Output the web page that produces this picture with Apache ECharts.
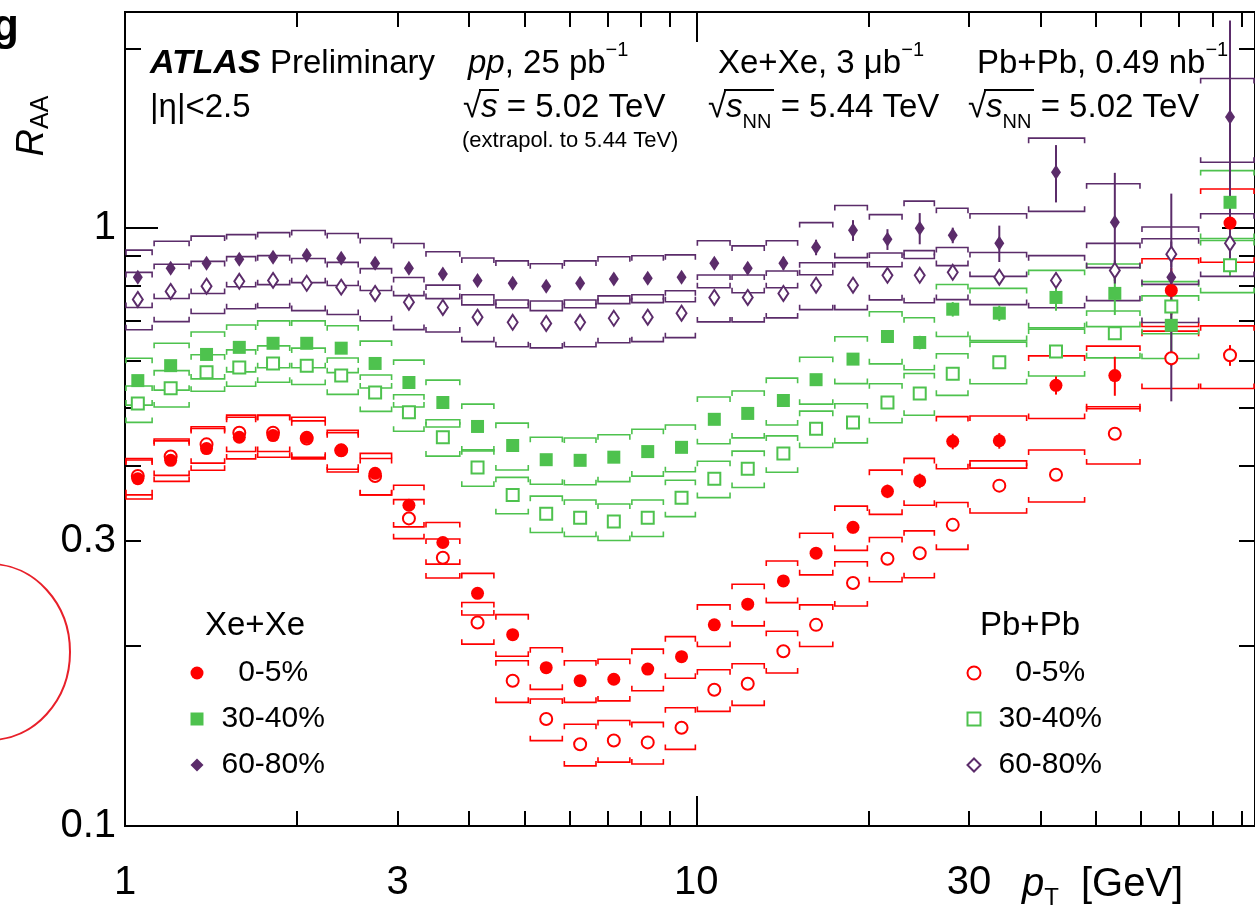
<!DOCTYPE html>
<html><head><meta charset="utf-8">
<script src="https://cdn.jsdelivr.net/npm/echarts@6/dist/echarts.min.js"></script>
<style>html,body{margin:0;padding:0;background:#fff}#c{width:1255px;height:918px}</style>
</head><body><div id="c"></div>
<script>
// ---------------- data ----------------
const binEdges = [1.0, 1.12, 1.3, 1.5, 1.7, 1.95, 2.25, 2.57, 2.94, 3.35, 3.87, 4.44, 5.1, 5.85, 6.7, 7.68, 8.79, 10.0, 11.5, 13.2, 15.1, 17.4, 20.0, 23.0, 26.2, 30.0, 38.0, 48.0, 60.0, 76.0, 95.0];
const ptCenters = [1.053, 1.202, 1.389, 1.585, 1.816, 2.08, 2.39, 2.74, 3.14, 3.60, 4.14, 4.77, 5.46, 6.26, 7.17, 8.22, 9.42, 10.75, 12.3, 14.2, 16.2, 18.8, 21.6, 24.6, 28.1, 33.9, 42.6, 54.0, 67.8, 85.9];

const xeRaa_0_5   = [0.381,0.409,0.428,0.447,0.450,0.447,0.425,0.389,0.344,0.298,0.245,0.209,0.184,0.175,0.176,0.183,0.192,0.217,0.235,0.257,0.286,0.316,0.363,0.378,0.440,0.441,0.546,0.567,0.787,1.02];
const pbRaa_0_5   = [0.385,0.415,0.435,0.455,0.455,0.445,0.425,0.385,0.327,0.281,0.219,0.175,0.151,0.137,0.139,0.138,0.146,0.169,0.173,0.196,0.217,0.255,0.280,0.286,0.319,0.371,0.387,0.453,0.606,0.613];
const xeRaa_30_40 = [0.556,0.589,0.615,0.632,0.642,0.642,0.630,0.594,0.552,0.511,0.466,0.433,0.410,0.409,0.414,0.423,0.430,0.479,0.490,0.515,0.558,0.604,0.659,0.644,0.732,0.721,0.766,0.778,0.688,1.105];
const pbRaa_30_40 = [0.509,0.540,0.574,0.585,0.594,0.589,0.567,0.531,0.492,0.447,0.398,0.358,0.333,0.328,0.323,0.328,0.354,0.381,0.396,0.420,0.462,0.473,0.511,0.529,0.571,0.597,0.622,0.667,0.740,0.867];
const xeRaa_60_80 = [0.828,0.857,0.874,0.887,0.894,0.901,0.891,0.874,0.857,0.838,0.818,0.809,0.800,0.809,0.822,0.825,0.828,0.874,0.857,0.874,0.929,0.992,0.958,1.000,0.973,0.944,1.241,1.023,0.828,1.535];
const pbRaa_60_80 = [0.760,0.784,0.800,0.815,0.818,0.809,0.797,0.778,0.752,0.737,0.710,0.696,0.693,0.696,0.707,0.710,0.721,0.766,0.766,0.778,0.803,0.803,0.834,0.834,0.844,0.828,0.818,0.850,0.905,0.944];

// relative systematic uncertainties (half height of the boxes)
const xeSys_0_5   = [0.075,0.078,0.08,0.08,0.08,0.08,0.08,0.08,0.08,0.08,0.08,0.08,0.08,0.08,0.08,0.08,0.08,0.08,0.08,0.08,0.08,0.085,0.085,0.09,0.10,0.10,0.12,0.12,0.13,0.14];
const pbSys_0_5   = [0.07,0.07,0.07,0.07,0.07,0.07,0.07,0.07,0.075,0.075,0.08,0.08,0.08,0.08,0.08,0.08,0.08,0.08,0.08,0.08,0.08,0.085,0.085,0.09,0.09,0.10,0.10,0.11,0.11,0.12];
const xeSys_30_40 = [0.09,0.09,0.09,0.09,0.09,0.09,0.09,0.09,0.09,0.09,0.09,0.09,0.09,0.09,0.09,0.09,0.09,0.09,0.09,0.09,0.09,0.09,0.10,0.10,0.10,0.10,0.11,0.12,0.12,0.13];
const pbSys_30_40 = [0.07,0.07,0.07,0.07,0.07,0.07,0.07,0.07,0.07,0.07,0.07,0.07,0.07,0.07,0.07,0.07,0.07,0.07,0.07,0.07,0.07,0.075,0.075,0.08,0.08,0.08,0.09,0.09,0.10,0.10];
const xeSys_60_80 = [0.11,0.11,0.11,0.10,0.10,0.10,0.10,0.10,0.10,0.09,0.09,0.09,0.09,0.09,0.09,0.09,0.09,0.09,0.09,0.09,0.10,0.10,0.10,0.11,0.11,0.12,0.14,0.16,0.16,0.16];
const pbSys_60_80 = [0.11,0.11,0.10,0.10,0.10,0.10,0.10,0.10,0.10,0.09,0.09,0.09,0.09,0.09,0.09,0.09,0.09,0.09,0.09,0.09,0.09,0.09,0.09,0.10,0.10,0.10,0.10,0.11,0.11,0.12];

// relative statistical uncertainties (vertical bars)
const xeStat_0_5   = [0.004,0.004,0.004,0.004,0.005,0.005,0.005,0.006,0.006,0.007,0.008,0.009,0.010,0.011,0.012,0.013,0.014,0.015,0.017,0.019,0.021,0.023,0.026,0.028,0.030,0.030,0.035,0.075,0.09,0.12];
const pbStat_0_5   = [0.002,0.002,0.002,0.002,0.002,0.002,0.003,0.003,0.003,0.003,0.004,0.004,0.004,0.005,0.005,0.005,0.006,0.006,0.007,0.008,0.009,0.010,0.011,0.012,0.013,0.015,0.018,0.022,0.03,0.04];
const xeStat_30_40 = [0.004,0.004,0.004,0.004,0.005,0.005,0.005,0.006,0.006,0.007,0.008,0.009,0.010,0.011,0.012,0.013,0.014,0.015,0.016,0.018,0.020,0.022,0.024,0.026,0.028,0.030,0.05,0.08,0.10,0.12];
const pbStat_30_40 = [0.002,0.002,0.002,0.002,0.002,0.002,0.003,0.003,0.003,0.003,0.004,0.004,0.004,0.005,0.005,0.005,0.006,0.006,0.007,0.008,0.009,0.010,0.011,0.012,0.013,0.015,0.018,0.022,0.03,0.04];
const xeStat_60_80 = [0.006,0.006,0.006,0.006,0.007,0.007,0.008,0.008,0.009,0.010,0.011,0.012,0.013,0.014,0.015,0.016,0.018,0.020,0.022,0.025,0.03,0.04,0.04,0.06,0.03,0.07,0.11,0.21,0.38,0.45];
const pbStat_60_80 = [0.003,0.003,0.003,0.003,0.003,0.003,0.004,0.004,0.004,0.005,0.005,0.006,0.006,0.007,0.007,0.008,0.009,0.010,0.011,0.012,0.014,0.016,0.018,0.020,0.022,0.025,0.03,0.04,0.05,0.06];

const xTickLabels = [1, 3, 10, 30];
const yTickLabels = [0.1, 0.3, 1];
const xMajorTicks = [1, 10];
const xMinorTicks = [2, 3, 4, 5, 6, 7, 8, 9, 20, 30, 40, 50, 60, 70, 80, 90];
const yMajorTicks = [0.1, 1];
const yMinorTicks = [0.2, 0.3, 0.4, 0.5, 0.6, 0.7, 0.8, 0.9, 2];

// ---------------- styling ----------------
const FF = "'Liberation Sans', Arial, Helvetica, sans-serif";
const RED = '#ff0000', GREEN = '#4ec24e', PURPLE = '#5b2c6a';
const X_MIN = 1, X_MAX = 95, Y_MIN = 0.1, Y_MAX = 2.3;

function boxData(vals, sys, stat) {
  return ptCenters.map((x, i) => [x, vals[i], binEdges[i], binEdges[i + 1],
    vals[i] * (1 - sys[i]), vals[i] * (1 + sys[i]), vals[i] * (1 - stat[i]), vals[i] * (1 + stat[i])]);
}
function pointData(vals) { return ptCenters.map((x, i) => [x, vals[i]]); }

function boxRender(color, lw) {
  return function (params, api) {
    const x = api.value(0);
    const xl = api.value(2), xh = api.value(3);
    const yl = api.value(4), yh = api.value(5);
    const sl = api.value(6), sh = api.value(7);
    const lt = api.coord([xl, yh]), rt = api.coord([xh, yh]);
    const lb = api.coord([xl, yl]), rb = api.coord([xh, yl]);
    const c = 5;
    const st = { stroke: color, lineWidth: lw, fill: null };
    const s1 = api.coord([x, sh]), s2 = api.coord([x, sl]);
    return {
      type: 'group', children: [
        { type: 'polyline', shape: { points: [[lt[0] + 1, lt[1] + c], [lt[0] + 1, lt[1]], [rt[0] - 1, rt[1]], [rt[0] - 1, rt[1] + c]] }, style: st },
        { type: 'polyline', shape: { points: [[lb[0] + 1, lb[1] - c], [lb[0] + 1, lb[1]], [rb[0] - 1, rb[1]], [rb[0] - 1, rb[1] - c]] }, style: st },
        { type: 'line', shape: { x1: s1[0], y1: s1[1], x2: s2[0], y2: s2[1] }, style: { stroke: color, lineWidth: 2 } }
      ]
    };
  };
}

function boxSeries(name, vals, sys, stat, color, z) {
  return { type: 'custom', name: name + ' unc', data: boxData(vals, sys, stat), renderItem: boxRender(color, 1.6),
    encode: { x: 0, y: 1 }, clip: true, silent: true, z: z, xAxisIndex: 0, yAxisIndex: 0 };
}
function markSeries(name, vals, symbol, size, color, z) {
  return { type: 'scatter', name: name, data: pointData(vals), symbol: symbol, symbolSize: size,
    itemStyle: { color: color, opacity: 1 }, z: z, silent: true, xAxisIndex: 0, yAxisIndex: 0,
    emphasis: { disabled: true } };
}

function xAx(pos, ticks, len, labels) {
  return {
    type: 'log', logBase: 10, min: X_MIN, max: X_MAX, position: pos, gridIndex: 0,
    axisLine: { show: false }, splitLine: { show: false }, minorTick: { show: false },
    axisTick: { show: true, inside: true, length: len, customValues: ticks, lineStyle: { color: '#000', width: 2 } },
    axisLabel: labels ? { show: true, customValues: labels, margin: 37, fontSize: 40, fontFamily: FF, color: '#000',
      formatter: v => String(v) } : { show: false }
  };
}
function yAx(pos, ticks, len, labels) {
  return {
    type: 'log', logBase: 10, min: Y_MIN, max: Y_MAX, position: pos, gridIndex: 0,
    axisLine: { show: false }, splitLine: { show: false }, minorTick: { show: false },
    axisTick: { show: true, inside: true, length: len, customValues: ticks, lineStyle: { color: '#000', width: 2 } },
    axisLabel: labels ? { show: true, customValues: labels, margin: 9, fontSize: 40, fontFamily: FF, color: '#000',
      formatter: v => String(v) } : { show: false }
  };
}

function legendFmt(name) {
  const s = name.replace(/^(Xe\+Xe|Pb\+Pb) /, '');
  return s === '0-5%' ? '  ' + s : s;
}
function legendCfg(left, names) {
  return {
    data: names, orient: 'vertical', left: left, top: 658, padding: 0,
    itemWidth: 13, itemHeight: 13, itemGap: 16, selectedMode: false,
    formatter: legendFmt,
    textStyle: { fontSize: 30, fontFamily: FF, color: '#000', lineHeight: 30, padding: [0, 0, 0, 13] }
  };
}

const baseRich = {
  b: { fontFamily: FF, fontSize: 34, fontWeight: 'bold', fontStyle: 'italic', lineHeight: 48 },
  n: { fontFamily: FF, fontSize: 33, lineHeight: 48 },
  i: { fontFamily: FF, fontSize: 33, fontStyle: 'italic', lineHeight: 48 },
  sup: { fontFamily: FF, fontSize: 20, verticalAlign: 'top', lineHeight: 22 },
  sub: { fontFamily: FF, fontSize: 20, verticalAlign: 'bottom', lineHeight: 16 },
  sm: { fontFamily: FF, fontSize: 22, lineHeight: 24 }
};
function txt(x, y, text, extra) {
  return Object.assign({ type: 'text', x: x, y: y, silent: true, z: 50,
    style: { text: text, fill: '#000', font: '33px ' + FF, align: 'left', verticalAlign: 'middle', rich: baseRich } }, extra || {});
}
function bar(x1, x2, y) {
  return { type: 'line', silent: true, z: 50, shape: { x1: x1, y1: y, x2: x2, y2: y }, style: { stroke: '#000', lineWidth: 2 } };
}

const option = {
  animation: false,
  backgroundColor: '#fff',
  grid: { left: 125, right: -7, top: 12, bottom: 92, show: true, borderColor: '#000', borderWidth: 2, backgroundColor: 'transparent' },
  xAxis: [
    xAx('bottom', xMajorTicks, 30, xTickLabels),
    xAx('bottom', xMinorTicks, 15, null),
    xAx('top', xMajorTicks, 30, null),
    xAx('top', xMinorTicks, 15, null)
  ],
  yAxis: [
    yAx('left', yMajorTicks, 33, yTickLabels),
    yAx('left', yMinorTicks, 16, null),
    yAx('right', yMajorTicks, 33, null),
    yAx('right', yMinorTicks, 16, null)
  ],
  legend: [
    legendCfg(190.5, ['Xe+Xe 0-5%', 'Xe+Xe 30-40%', 'Xe+Xe 60-80%']),
    legendCfg(966.5, ['Pb+Pb 0-5%', 'Pb+Pb 30-40%', 'Pb+Pb 60-80%'])
  ],
  series: [
    boxSeries('Pb+Pb 0-5%', pbRaa_0_5, pbSys_0_5, pbStat_0_5, RED, 2),
    boxSeries('Pb+Pb 30-40%', pbRaa_30_40, pbSys_30_40, pbStat_30_40, GREEN, 2),
    boxSeries('Pb+Pb 60-80%', pbRaa_60_80, pbSys_60_80, pbStat_60_80, PURPLE, 2),
    boxSeries('Xe+Xe 0-5%', xeRaa_0_5, xeSys_0_5, xeStat_0_5, RED, 3),
    boxSeries('Xe+Xe 30-40%', xeRaa_30_40, xeSys_30_40, xeStat_30_40, GREEN, 3),
    boxSeries('Xe+Xe 60-80%', xeRaa_60_80, xeSys_60_80, xeStat_60_80, PURPLE, 3),
    markSeries('Pb+Pb 0-5%', pbRaa_0_5, 'emptyCircle', 12, RED, 4),
    markSeries('Pb+Pb 30-40%', pbRaa_30_40, 'emptyRect', 12, GREEN, 4),
    markSeries('Pb+Pb 60-80%', pbRaa_60_80, 'emptyDiamond', [10, 15], PURPLE, 4),
    markSeries('Xe+Xe 0-5%', xeRaa_0_5, 'circle', 13, RED, 5),
    markSeries('Xe+Xe 30-40%', xeRaa_30_40, 'rect', 13, GREEN, 5),
    markSeries('Xe+Xe 60-80%', xeRaa_60_80, 'diamond', [10, 15], PURPLE, 5)
  ],
  graphic: [
    txt(150, 64, '{b|ATLAS}{n| Preliminary}'),
    txt(150, 108, '{n||η|<2.5}'),
    txt(468, 64, '{i|pp}{n|, 25 pb}{sup|−1}'),
    txt(718, 64, '{n|Xe+Xe, 3 μb}{sup|−1}'),
    txt(977, 64, '{n|Pb+Pb, 0.49 nb}{sup|−1}'),
    txt(463, 108, '{n|√}{i|s}{n| = 5.02 TeV}'),
    bar(479, 499, 90),
    txt(462, 141, '{sm|(extrapol. to 5.44 TeV)}'),
    txt(708, 108, '{n|√}{i|s}{sub|NN}{n| = 5.44 TeV}'),
    bar(724, 774, 90),
    txt(968, 108, '{n|√}{i|s}{sub|NN}{n| = 5.02 TeV}'),
    bar(984, 1034, 90),
    txt(205, 626, '{n|Xe+Xe}', {}),
    txt(980, 626, '{n|Pb+Pb}', {}),
    // axis titles
    { type: 'text', x: 32, y: 126, rotation: Math.PI / 2, silent: true, z: 50,
      style: { text: '{r|R}{s|AA}', align: 'center', verticalAlign: 'middle', fill: '#000',
        rich: { r: { fontFamily: FF, fontSize: 38, fontStyle: 'italic', lineHeight: 44 },
                s: { fontFamily: FF, fontSize: 25, verticalAlign: 'bottom', lineHeight: 18 } } } },
    { type: 'text', x: 1022, y: 885, silent: true, z: 50,
      style: { text: '{p|p}{t|T}{g|[GeV]}', align: 'left', verticalAlign: 'middle', fill: '#000',
        rich: { p: { fontFamily: FF, fontSize: 40, fontStyle: 'italic', lineHeight: 50 },
                t: { fontFamily: FF, fontSize: 24, verticalAlign: 'bottom', lineHeight: 14 },
                g: { fontFamily: FF, fontSize: 40, lineHeight: 50, padding: [0, 0, 0, 22] } } } },
    // scan artefacts: cropped heading letter and red annotation circle
    { type: 'text', x: -8, y: 28, silent: true,
      style: { text: 'g', font: 'bold 44px ' + FF, fill: '#000', verticalAlign: 'middle' } },
    { type: 'ellipse', silent: true, shape: { cx: -10, cy: 652, rx: 80, ry: 88 },
      style: { fill: 'none', stroke: '#e8202a', lineWidth: 2 } }
  ]
};

const chart = echarts.init(document.getElementById('c'), null, { renderer: 'canvas', width: 1255, height: 918 });
chart.setOption(option);
</script>
</body></html>
